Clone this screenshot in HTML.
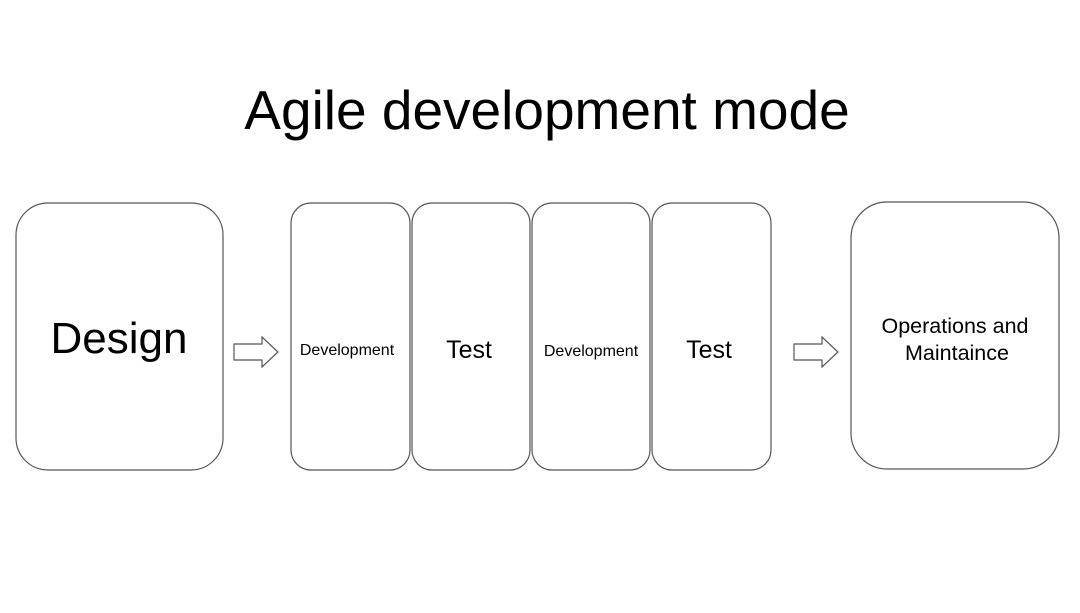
<!DOCTYPE html>
<html><head><style>
body{margin:0;width:1080px;height:608px;background:#fff;overflow:hidden;font-family:"Liberation Sans",sans-serif;}
</style></head><body>
<svg width="1080" height="608" xmlns="http://www.w3.org/2000/svg" font-family="Liberation Sans, sans-serif" fill="none">
<text x="547" y="129" font-size="55" text-anchor="middle" fill="#000">Agile development mode</text>
<g stroke="#555" stroke-width="1.2" fill="#fff">
<rect x="16" y="203" width="207" height="267" rx="32"/>
<rect x="291" y="203" width="119" height="267" rx="20"/>
<rect x="412" y="203" width="118" height="267" rx="20"/>
<rect x="532" y="203" width="118" height="267" rx="20"/>
<rect x="652" y="203" width="119" height="267" rx="20"/>
<rect x="851" y="202" width="208" height="267" rx="36"/>
<path d="M234 344 H262 V337 L278 352 L262 367 V360 H234 Z"/>
<path d="M794 344 H822 V337 L838 352 L822 367 V360 H794 Z"/>
</g>
<g fill="#000" text-anchor="middle">
<text x="119" y="353" font-size="44">Design</text>
<text x="347" y="355" font-size="16">Development</text>
<text x="469" y="358" font-size="25">Test</text>
<text x="591" y="356" font-size="16">Development</text>
<text x="709" y="358" font-size="25">Test</text>
<text x="955" y="333" font-size="21.5">Operations and</text>
<text x="957" y="360" font-size="21.5">Maintaince</text>
</g>
</svg>
</body></html>
